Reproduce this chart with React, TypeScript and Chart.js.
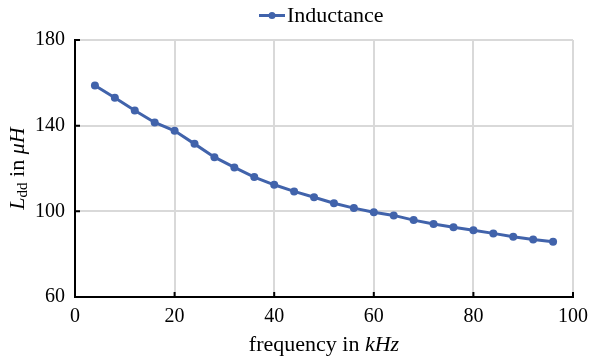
import React, { useEffect, useRef } from 'react';
import { Chart, registerables } from 'chart.js';

Chart.register(...registerables);

const frequencies = [4, 8, 12, 16, 20, 24, 28, 32, 36, 40, 44, 48, 52, 56, 60, 64, 68, 72, 76, 80, 84, 88, 92, 96];
const inductance = [158.8, 153.0, 147.1, 141.5, 137.6, 131.5, 125.3, 120.5, 116.0, 112.4, 109.3, 106.6, 103.8, 101.5, 99.6, 98.1, 95.9, 94.1, 92.6, 91.2, 89.7, 88.1, 86.9, 85.8];
const xTicks = [0, 20, 40, 60, 80, 100];
const yTicks = [60, 100, 140, 180];
const seriesLabel = 'Inductance';

const FAMILY = '"Liberation Serif", "Times New Roman", serif';
const LINE_COLOR = '#4163ab';

type Seg = { text: string; italic?: boolean; size?: number; dy?: number };

function fontStr(size: number, italic?: boolean) {
  return `${italic ? 'italic ' : ''}${size}px ${FAMILY}`;
}

function drawSegs(ctx: CanvasRenderingContext2D, segs: Seg[], cx: number, baseline: number, baseSize: number) {
  const widths = segs.map((s) => {
    ctx.font = fontStr(s.size ?? baseSize, s.italic);
    return ctx.measureText(s.text).width;
  });
  const total = widths.reduce((a, b) => a + b, 0);
  let x = cx - total / 2;
  ctx.textAlign = 'left';
  ctx.textBaseline = 'alphabetic';
  segs.forEach((s, i) => {
    ctx.font = fontStr(s.size ?? baseSize, s.italic);
    ctx.fillText(s.text, x, baseline + (s.dy ?? 0));
    x += widths[i];
  });
}

const decorPlugin = {
  id: 'decor',
  afterDraw(chart: any) {
    const ctx: CanvasRenderingContext2D = chart.ctx;
    const { left, right, top, bottom } = chart.chartArea;
    const xs = chart.scales.x;
    const ys = chart.scales.y;
    ctx.save();
    // axes
    ctx.strokeStyle = '#000';
    ctx.lineWidth = 2;
    ctx.beginPath();
    ctx.moveTo(left, top - 1);
    ctx.lineTo(left, bottom + 1);
    ctx.moveTo(left - 1, bottom);
    ctx.lineTo(right + 1, bottom);
    xTicks.forEach((v) => {
      const px = xs.getPixelForValue(v);
      ctx.moveTo(px, bottom);
      ctx.lineTo(px, bottom - 5);
    });
    yTicks.forEach((v) => {
      const py = ys.getPixelForValue(v);
      ctx.moveTo(left, py);
      ctx.lineTo(left + 5, py);
    });
    ctx.stroke();

    ctx.fillStyle = '#000';
    // x title
    drawSegs(ctx, [{ text: 'frequency in ' }, { text: 'kHz', italic: true }], (left + right) / 2, 351, 22);
    // y title
    ctx.save();
    ctx.translate(24, (top + bottom) / 2);
    ctx.rotate(-Math.PI / 2);
    drawSegs(
      ctx,
      [
        { text: 'L', italic: true },
        { text: 'dd', size: 15, dy: 3 },
        { text: ' in ' },
        { text: 'μH', italic: true },
      ],
      0,
      0,
      22
    );
    ctx.restore();

    // legend
    const ly = 15.5;
    ctx.strokeStyle = LINE_COLOR;
    ctx.lineWidth = 3;
    ctx.beginPath();
    ctx.moveTo(259, ly);
    ctx.lineTo(285, ly);
    ctx.stroke();
    ctx.fillStyle = LINE_COLOR;
    ctx.beginPath();
    ctx.arc(272, ly, 3.5, 0, Math.PI * 2);
    ctx.fill();
    ctx.fillStyle = '#000';
    ctx.font = fontStr(22);
    ctx.textAlign = 'left';
    ctx.textBaseline = 'alphabetic';
    ctx.fillText(seriesLabel, 287, 22);
    ctx.restore();
  },
};

export default function App() {
  const ref = useRef<HTMLCanvasElement | null>(null);
  useEffect(() => {
    document.body.style.margin = '0';
    const canvas = ref.current;
    if (!canvas) return;
    const chart = new Chart(canvas, {
      type: 'line',
      data: {
        datasets: [
          {
            label: seriesLabel,
            data: frequencies.map((f, i) => ({ x: f, y: inductance[i] })),
            borderColor: LINE_COLOR,
            backgroundColor: LINE_COLOR,
            borderWidth: 3,
            pointRadius: 4,
            pointBorderWidth: 0,
            pointBackgroundColor: LINE_COLOR,
            tension: 0,
          },
        ],
      },
      options: {
        animation: false,
        responsive: false,
        devicePixelRatio: 1,
        layout: { padding: { left: 0, right: 16, top: 40, bottom: 0 } },
        plugins: {
          legend: { display: false },
          tooltip: { enabled: false },
        },
        scales: {
          x: {
            type: 'linear',
            min: xTicks[0],
            max: xTicks[xTicks.length - 1],
            ticks: { stepSize: 20, color: '#000', padding: 8, font: { family: FAMILY, size: 20 } },
            grid: { color: '#d9d9d9', lineWidth: 2, drawTicks: false },
            border: { display: false },
            afterFit: (s: any) => {
              s.height = 62;
              s.paddingLeft = 0;
              s.paddingRight = 0;
            },
          },
          y: {
            type: 'linear',
            min: yTicks[0],
            max: yTicks[yTicks.length - 1],
            ticks: { stepSize: 40, color: '#000', padding: 10, font: { family: FAMILY, size: 20 } },
            grid: { color: '#d9d9d9', lineWidth: 2, drawTicks: false },
            border: { display: false },
            afterFit: (s: any) => {
              s.width = 75;
              s.paddingTop = 0;
              s.paddingBottom = 0;
            },
          },
        },
      },
      plugins: [decorPlugin],
    } as any);
    return () => chart.destroy();
  }, []);
  return (
    <div style={{ position: 'fixed', left: 0, top: 0, width: 589, height: 359, background: '#fff' }}>
      <canvas ref={ref} width={589} height={359} style={{ display: 'block' }} />
    </div>
  );
}
